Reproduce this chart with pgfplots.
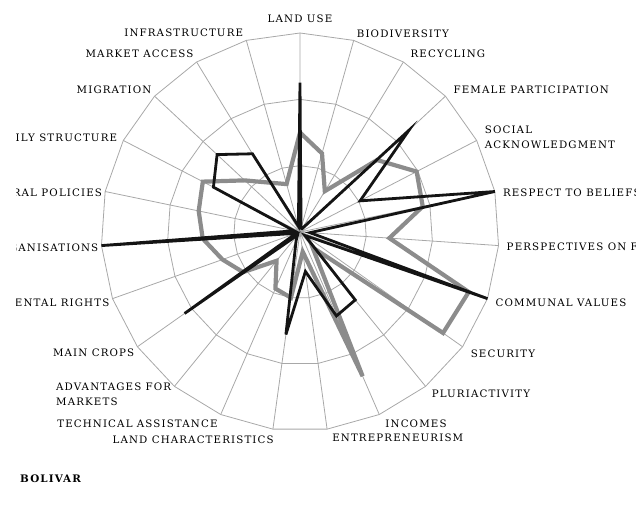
\documentclass[border=0pt]{standalone}
\usepackage{pgfplots}
\pgfplotsset{compat=1.18}
\usepgfplotslibrary{polar}
\usepackage{pgfplotstable}
\usepackage{fontspec}
\setmainfont{DejaVu Serif}[LetterSpace=11]
\definecolor{gridc}{HTML}{A8A8A8}
\definecolor{serA}{HTML}{8C8C8C}
\definecolor{serB}{HTML}{141414}
% i = category index (clockwise from LAND USE), g = grey series, b = black series
\pgfplotstableread{
i g b
0 1.50 2.25
1 1.23 0.06
2 0.72 0.06
3 1.59 2.25
4 1.98 1.02
5 1.89 3.00
6 1.35 0.15
7 2.70 3.00
8 2.64 0.09
9 0.30 1.32
10 2.37 1.38
11 0.30 0.60
12 1.00 1.56
13 0.93 0.15
14 0.56 0.06
15 1.05 2.13
16 1.24 0.06
17 1.47 3.00
18 1.56 0.09
19 1.65 1.47
20 1.14 1.71
21 0.87 1.38
22 0.75 0.09
23 1.50 2.25
}\radardata
\newcommand\radanchor{\ifcase\numexpr\ticknum\relax south\or south west\or south west\or south west\or west\or west\or west\or west\or north west\or north west\or north west\or north west\or north east\or north east\or north east\or north east\or east\or east\or east\or east\or south east\or south east\or south east\fi}
\newcommand\radxs{\ifcase\numexpr\ticknum\relax 0bp\or 0bp\or 4bp\or 5bp\or 5bp\or 5bp\or 5bp\or 5bp\or 5bp\or 3bp\or 3bp\or 2bp\or 4bp\or 0bp\or 0bp\or 0bp\or 0bp\or 0bp\or 0bp\or -3bp\else 0bp\fi}
\newcommand\radys{\ifcase\numexpr\ticknum\relax 7bp\or 0bp\or 1bp\or -1bp\or 3bp\or -1bp\or -1bp\or -4bp\or 0bp\or 0bp\or -2bp\or -2bp\or -4bp\or -2bp\or 7bp\or 1bp\or -4bp\or -2bp\or -1bp\or 3bp\or -1bp\or 1bp\or 1bp\fi}
\begin{document}
\begin{tikzpicture}
\useasboundingbox (0,0) rectangle (636bp,515bp);
\clip (16bp,0) rectangle (636bp,515bp);
\begin{polaraxis}[
  at={(300bp,283bp)}, anchor=center,
  scale only axis, width=398bp, height=398bp,
  ymin=0, ymax=3, ytick={1,2,3}, yticklabels={}, ymajorgrids=false,
  xtick={90,74.348,58.696,43.043,27.391,11.739,356.087,340.435,324.783,309.130,293.478,277.826,262.174,246.522,230.870,215.217,199.565,183.913,168.261,152.609,136.957,121.304,105.652},
  xticklabels={LAND USE,BIODIVERSITY,RECYCLING,FEMALE PARTICIPATION,{SOCIAL\\ACKNOWLEDGMENT},RESPECT TO BELIEFS,PERSPECTIVES ON FUTURE,COMMUNAL VALUES,SECURITY,PLURIACTIVITY,INCOMES,ENTREPRENEURISM,LAND CHARACTERISTICS,TECHNICAL ASSISTANCE,{ADVANTAGES FOR\\MARKETS},MAIN CROPS,ENVIRONMENTAL RIGHTS,SOCIAL ORGANISATIONS,AGRICULTURAL POLICIES,FAMILY STRUCTURE,MIGRATION,MARKET ACCESS,INFRASTRUCTURE},
  xticklabel style={font=\fontsize{10.3}{15}\selectfont, align=left, inner sep=3bp,
    /utils/exec={\edef\radanc{\radanchor}\edef\radx{\radxs}\edef\rady{\radys}},
    anchor=\radanc, xshift=\radx, yshift=\rady},
  xmajorgrids=true,
  major grid style={gridc, line width=0.8bp},
  major tick length=0pt,
  axis line style={draw=none},
  clip=false,
]
\addplot[gridc, line width=0.8bp] table[x expr={90-\thisrow{i}*360/23}, y expr=1] {\radardata};
\addplot[gridc, line width=0.8bp] table[x expr={90-\thisrow{i}*360/23}, y expr=2] {\radardata};
\addplot[gridc, line width=0.8bp] table[x expr={90-\thisrow{i}*360/23}, y expr=3] {\radardata};
\addplot[serA, line width=4.2bp, line join=miter] table[x expr={90-\thisrow{i}*360/23}, y=g] {\radardata};
\addplot[serB, line width=2.8bp, line join=miter] table[x expr={90-\thisrow{i}*360/23}, y=b] {\radardata};
\end{polaraxis}
\node[anchor=base west, inner sep=0pt, font=\fontsize{10.4}{12}\selectfont\bfseries] at (20bp,33bp) {BOLIVAR};
\end{tikzpicture}
\end{document}
